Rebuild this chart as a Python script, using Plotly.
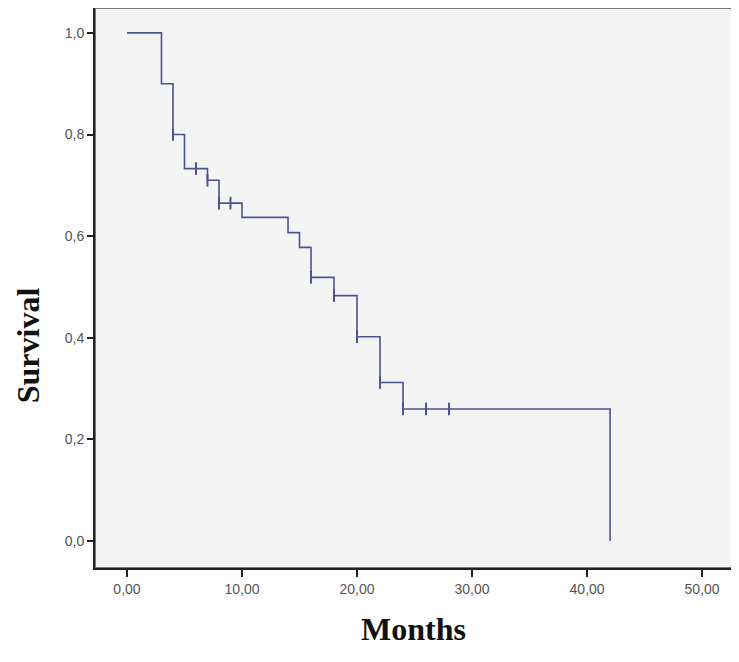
import plotly.graph_objects as go

# Kaplan-Meier step curve (event times and survival after each step)
event_months = [0, 3, 4, 5, 7, 8, 10, 14, 15, 16, 18, 20, 22, 24, 42]
survival = [1.0, 0.9, 0.8, 0.733, 0.71, 0.665, 0.637, 0.607, 0.578,
            0.519, 0.483, 0.402, 0.312, 0.26, 0.0]

# censored observations
censor_months = [4, 6, 7, 8, 9, 16, 18, 20, 22, 24, 26, 28]

x_tickvals = [0, 10, 20, 30, 40, 50]
x_ticktext = ['0,00', '10,00', '20,00', '30,00', '40,00', '50,00']
y_tickvals = [0.0, 0.2, 0.4, 0.6, 0.8, 1.0]
y_ticktext = ['0,0', '0,2', '0,4', '0,6', '0,8', '1,0']

LINE_COLOR = '#4d5292'
TITLE_FONT = dict(family='Liberation Serif, Times New Roman', size=32, color='#111')


def surv_at(t):
    s = survival[0]
    for m, v in zip(event_months, survival):
        if m <= t:
            s = v
    return s


censor_surv = [surv_at(t) for t in censor_months]

fig = go.Figure()

fig.add_trace(go.Scatter(
    x=event_months,
    y=survival,
    mode='lines',
    line=dict(color=LINE_COLOR, width=1.6, shape='hv'),
    showlegend=False,
))

fig.add_trace(go.Scatter(
    x=censor_months,
    y=censor_surv,
    mode='markers',
    marker=dict(symbol='line-ns-open', size=9, color=LINE_COLOR,
                line=dict(color=LINE_COLOR, width=2)),
    showlegend=False,
))

# grey frame on top / right
fig.add_shape(type='rect', xref='x domain', yref='y domain',
              x0=0, x1=1, y0=0, y1=1,
              line=dict(color='#767676', width=2), layer='below')

# y title sits a bit below the middle, like the original
fig.add_annotation(
    text='<b>Survival</b>', textangle=-90,
    xref='paper', yref='paper', x=-0.105, y=0.398,
    xanchor='center', yanchor='middle', showarrow=False,
    font=TITLE_FONT,
)

fig.update_xaxes(
    range=[-2.78, 52.6],
    tickvals=x_tickvals,
    ticktext=x_ticktext,
    ticks='outside', ticklen=7, tickwidth=2, tickcolor='#222',
    showline=True, linecolor='#222', linewidth=2,
    showgrid=False, zeroline=False, automargin=False,
    tickfont=dict(family='Liberation Sans, Arial', size=14, color='#555'),
    title=dict(text='<b>Months</b>', standoff=22, font=TITLE_FONT),
)

fig.update_yaxes(
    range=[-0.053, 1.049],
    tickvals=y_tickvals,
    ticktext=y_ticktext,
    ticks='outside', ticklen=6, tickwidth=2, tickcolor='#222',
    showline=True, linecolor='#222', linewidth=2,
    showgrid=False, zeroline=False, automargin=False,
    tickfont=dict(family='Liberation Sans, Arial', size=14, color='#555'),
)

fig.update_layout(
    width=731,
    height=646,
    plot_bgcolor='#f4f4f4',
    paper_bgcolor='white',
    margin=dict(l=87, r=7, t=0, b=86),
)

fig.write_html("out.html")
